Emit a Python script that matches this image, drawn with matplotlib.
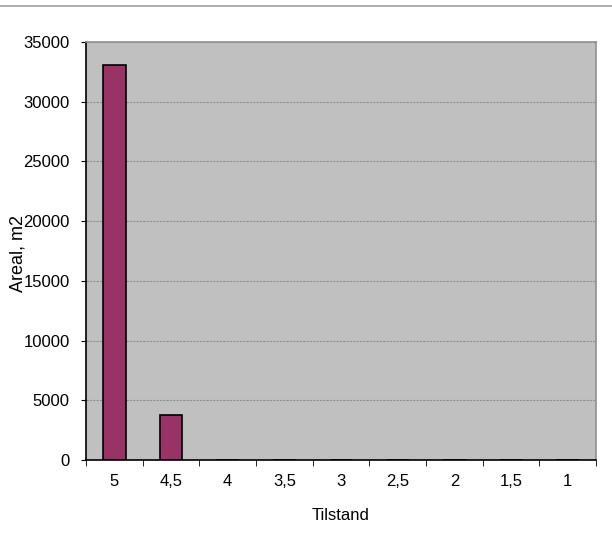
import matplotlib
matplotlib.use("Agg")
import matplotlib.pyplot as plt
import numpy as np

plt.rcParams['font.family'] = ['Liberation Sans', 'DejaVu Sans']

categories = ["5", "4,5", "4", "3,5", "3", "2,5", "2", "1,5", "1"]
values = [33100, 3750, 0, 0, 0, 0, 0, 0, 0]
yticks = [0, 5000, 10000, 15000, 20000, 25000, 30000, 35000]

fig = plt.figure(figsize=(6.12, 5.48), dpi=100)
fig.add_artist(plt.Line2D([0, 1], [1 - 6/548, 1 - 6/548], color="#a0a0a0", lw=1.2))
ax = fig.add_axes([86/612, 1 - 460/548, (596-86)/612, (460-42)/548])
ax.set_facecolor("#c0c0c0")
x = np.arange(len(categories))
ax.bar(x, values, width=0.4, color="#993366", edgecolor="black", linewidth=1.2, zorder=3)
ax.set_xlim(-0.5, len(categories) - 0.5)
ax.set_ylim(0, 35000)
ax.set_yticks(yticks)
ax.set_yticklabels([str(v) for v in yticks], fontsize=12)
ax.set_xticks(x)
ax.set_xticklabels(categories, fontsize=12)
ax.tick_params(axis='x', which='major', length=0, pad=10)
ax.set_xticks(np.arange(-0.5, len(categories)), minor=True)
ax.tick_params(axis='x', which='minor', length=4.3, color='black')
ax.tick_params(axis='y', length=3.6, pad=8)
ax.yaxis.grid(True, color="#909090", linestyle=(0, (2, 1)), linewidth=0.8, zorder=0)
ax.set_axisbelow(True)
for s in ['top', 'right']:
    ax.spines[s].set_color('#909090')
    ax.spines[s].set_linewidth(1.2)
ax.spines['left'].set_linewidth(1.2)
ax.spines['bottom'].set_linewidth(1.2)
ax.set_xlabel("Tilstand", fontsize=12, labelpad=14)
ax.set_ylabel("Areal, m2", fontsize=13)
ax.yaxis.set_label_coords(-59/510, 0.493)
fig.savefig("out.png", dpi=100)
